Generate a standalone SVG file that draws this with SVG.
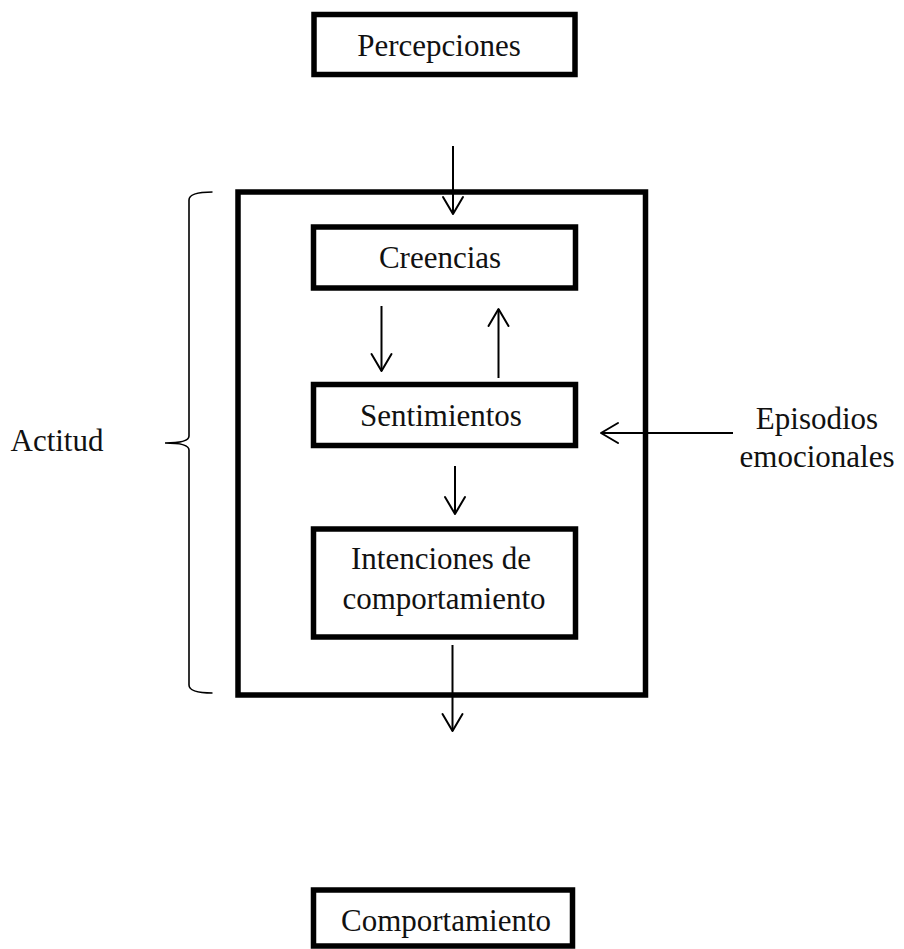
<svg xmlns="http://www.w3.org/2000/svg" width="904" height="949" viewBox="0 0 904 949">
<defs>
<style>
.box{fill:#fff;stroke:#000;stroke-width:5.5}
.frame{fill:none;stroke:#000;stroke-width:5.5}
.lbl{font-family:"Liberation Serif","Times New Roman",serif;font-size:31px;fill:#111;text-anchor:middle}
.con{fill:none;stroke:#000;stroke-width:2}
.head{fill:none;stroke:#000;stroke-width:2;stroke-linecap:round;stroke-linejoin:round}
.brace{fill:none;stroke:#000;stroke-width:1.6}
</style>
</defs>
<rect width="904" height="949" fill="#fff"/>
<g id="actitud-frame">
<rect class="frame" x="238" y="192" width="407.5" height="503"/>
</g>
<g id="percepciones">
<rect class="box" x="314" y="14.5" width="261" height="60"/>
<text class="lbl" x="439" y="56">Percepciones</text>
</g>
<g id="creencias">
<rect class="box" x="313.5" y="227" width="262" height="61"/>
<text class="lbl" x="440" y="268">Creencias</text>
</g>
<g id="sentimientos">
<rect class="box" x="313.5" y="384.5" width="262" height="61"/>
<text class="lbl" x="441" y="426">Sentimientos</text>
</g>
<g id="intenciones">
<rect class="box" x="313.5" y="529" width="262" height="108"/>
<text class="lbl" x="441" y="569">Intenciones de</text>
<text class="lbl" x="444" y="609">comportamiento</text>
</g>
<g id="comportamiento">
<rect class="box" x="313.5" y="890" width="259" height="56"/>
<text class="lbl" x="446" y="931">Comportamiento</text>
</g>
<g id="actitud">
<text class="lbl" x="57" y="451">Actitud</text>
<path class="brace" d="M212.5,192 Q189,192 189,200 L189,436 Q189,443 165,443 Q189,443 189,450 L189,685 Q189,693 212.5,693"/>
</g>
<g id="episodios">
<text class="lbl" x="817" y="429">Episodios</text>
<text class="lbl" x="817" y="467">emocionales</text>
</g>
<g id="connectors">
<line class="con" x1="453" y1="146" x2="453" y2="214"/>
<path class="head" d="M443,197 L453,214 L463,197"/>
<line class="con" x1="381.5" y1="306" x2="381.5" y2="371"/>
<path class="head" d="M371.5,354 L381.5,371 L391.5,354"/>
<line class="con" x1="498.5" y1="378" x2="498.5" y2="309"/>
<path class="head" d="M488.5,326 L498.5,309 L508.5,326"/>
<line class="con" x1="455" y1="466" x2="455" y2="514"/>
<path class="head" d="M445,497 L455,514 L465,497"/>
<line class="con" x1="452.5" y1="645" x2="452.5" y2="731"/>
<path class="head" d="M442.5,714 L452.5,731 L462.5,714"/>
<line class="con" x1="733" y1="433" x2="601" y2="433"/>
<path class="head" d="M618,423 L601,433 L618,443"/>
</g>
</svg>
